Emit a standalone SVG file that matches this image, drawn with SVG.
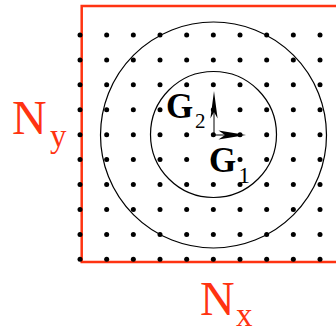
<svg xmlns="http://www.w3.org/2000/svg" xmlns:xlink="http://www.w3.org/1999/xlink" width="336" height="330" viewBox="0 0 336 330">
  <style>
    .frame { fill: none; stroke: #ff3311; stroke-width: 2.5; }
    .ring { fill: none; stroke: #000; stroke-width: 1.2; }
    .dot { fill: #000; }
    .vec { stroke: #000; stroke-width: 1; fill: none; }
    .head { fill: #000; stroke: none; }
    .red { fill: #ff3311; }
    .blk { fill: #000; }
  </style>
  <defs>
    <circle id="d" r="2.5" class="dot"/>
    <g id="row">
      <use xlink:href="#d" x="80"/>
      <use xlink:href="#d" x="106.67"/>
      <use xlink:href="#d" x="133.33"/>
      <use xlink:href="#d" x="160"/>
      <use xlink:href="#d" x="186.67"/>
      <use xlink:href="#d" x="213.33"/>
      <use xlink:href="#d" x="240"/>
      <use xlink:href="#d" x="266.67"/>
      <use xlink:href="#d" x="293.33"/>
      <use xlink:href="#d" x="320"/>
    </g>
  </defs>

  <g id="frame">
    <polyline class="frame" points="336,6 81.7,6 81.7,262 336,262"/>
  </g>

  <g id="circles">
    <circle class="ring" cx="213.5" cy="134.5" r="63"/>
    <circle class="ring" cx="213.5" cy="135" r="113"/>
  </g>

  <g id="lattice">
    <use xlink:href="#row" y="35"/>
    <use xlink:href="#row" y="59.9"/>
    <use xlink:href="#row" y="84.8"/>
    <use xlink:href="#row" y="109.8"/>
    <use xlink:href="#row" y="134.7"/>
    <use xlink:href="#row" y="159.6"/>
    <use xlink:href="#row" y="184.5"/>
    <use xlink:href="#row" y="209.4"/>
    <use xlink:href="#row" y="234.4"/>
    <use xlink:href="#row" y="259.3"/>
  </g>

  <g id="connectors">
    <g id="G2-vector">
      <line class="vec" x1="214" y1="135" x2="214" y2="110"/>
      <polygon class="head" points="214,91 217.6,118.5 214,112 210.4,118.5"/>
    </g>
    <g id="G1-vector">
      <line class="vec" x1="214" y1="135" x2="228" y2="135"/>
      <polygon class="head" points="246,135 218.5,139.6 225,135 218.5,130.4"/>
    </g>
  </g>

  <g id="label-Ny">
    <text class="red" x="12" y="133.5" font-size="48" font-family="Liberation Serif, Times New Roman, serif">N</text>
    <text class="red" x="50" y="146.5" font-size="33" font-family="Liberation Serif, Times New Roman, serif">y</text>
  </g>
  <g id="label-Nx">
    <text class="red" x="200" y="315" font-size="48" font-family="Liberation Serif, Times New Roman, serif">N</text>
    <text class="red" x="236" y="326" font-size="33" font-family="Liberation Serif, Times New Roman, serif">x</text>
  </g>
  <g id="label-G2">
    <text class="blk" x="166" y="117.5" font-size="35" font-weight="bold" font-family="Liberation Serif, Times New Roman, serif">G</text>
    <text class="blk" x="195" y="127.5" font-size="21" font-family="Liberation Serif, Times New Roman, serif">2</text>
  </g>
  <g id="label-G1">
    <text class="blk" x="209" y="171.5" font-size="35" font-weight="bold" font-family="Liberation Serif, Times New Roman, serif">G</text>
    <text class="blk" x="238.5" y="182.5" font-size="23" font-family="Liberation Serif, Times New Roman, serif">1</text>
  </g>
</svg>
